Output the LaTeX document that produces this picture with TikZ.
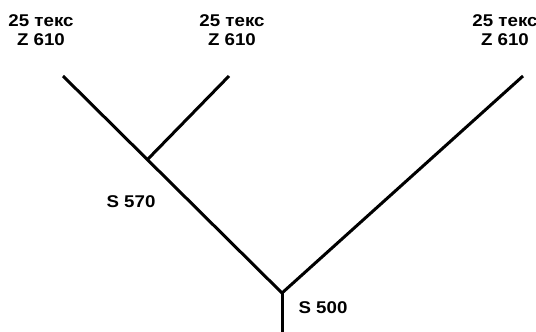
\documentclass[tikz,border=0pt]{standalone}
\usepackage{graphicx}
\usepackage{fontspec}
\setmainfont{Liberation Sans}
\newcommand{\widetxt}[1]{\scalebox{1.1}[1]{#1}}
\begin{document}
\begin{tikzpicture}[x=1pt,y=-1pt,
  yarn/.style={line width=3pt,line cap=butt},
  lbl/.style={font=\bfseries\fontsize{17}{19}\selectfont,align=center,inner sep=0pt}]
\useasboundingbox (0,0) rectangle (536,332);
\coordinate (t1) at (63,76);
\coordinate (j1) at (148,159);
\coordinate (t2) at (229,76);
\coordinate (j0) at (282,293);
\coordinate (t3) at (523,76);
\coordinate (b) at (282,332);
\draw[yarn] (t1) -- (j0);
\draw[yarn] (j1) -- (t2);
\draw[yarn] (j0) -- (t3);
\draw[yarn] (j0) -- (b);
\node[lbl] (l1) at (41,30) {\widetxt{25 текс}\\\widetxt{Z 610}};
\node[lbl] (l2) at (232,30) {\widetxt{25 текс}\\\widetxt{Z 610}};
\node[lbl] (l3) at (505,30) {\widetxt{25 текс}\\\widetxt{Z 610}};
\node[lbl] (s1) at (131,202) {\widetxt{S 570}};
\node[lbl] (s2) at (323,308) {\widetxt{S 500}};
\end{tikzpicture}
\end{document}
